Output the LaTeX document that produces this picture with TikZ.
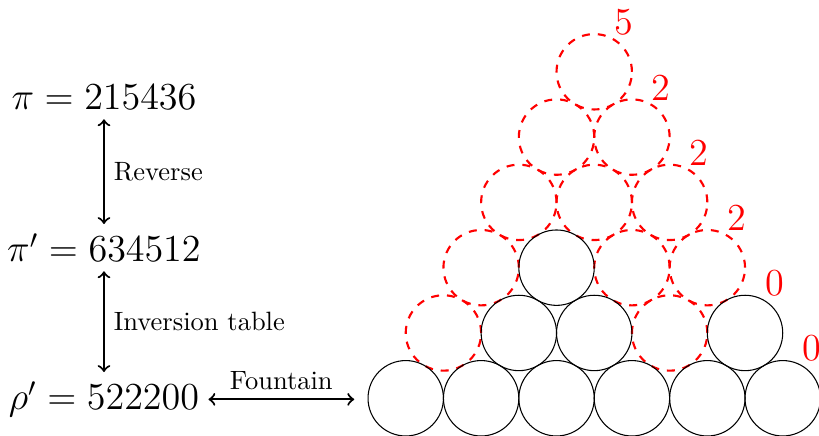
\documentclass[tikz,border=0pt]{standalone}
\usepackage{tikz}
\usetikzlibrary{arrows,shapes,positioning}
\usepackage{amsmath}
\usepackage{amssymb}

\begin{document}
\begin{tikzpicture}
\tikzstyle{every node}=[font=\Large]
\tikzstyle{ball}=[circle, draw, inner sep=0pt, minimum size=1cm]
\tikzstyle{hole}=[ball, draw=red, dashed, thick]
\tikzstyle{num}=[text=red, font=\Large]
\useasboundingbox (0,0) rectangle (10.862,5.782);
\node[anchor=base] (pi) at (1.379,4.324) {$\pi = 215436$};
\node[anchor=base] (pip) at (1.379,2.308) {$\pi' = 634512$};
\node[anchor=base] (rho) at (1.379,0.345) {$\rho' = 522200$};
\begin{scope}[shift={(5.381,0.5)}]
% the dashed ones first
\foreach \i in {0,3} \node[hole] (h1\i) at (\i+0.5,0.866) {};
\foreach \i in {0,2,3} \node[hole] (h2\i) at (\i+1,1.732) {};
\foreach \i in {0,1,2} \node[hole] (h3\i) at (\i+1.5,2.598) {};
\foreach \i in {0,1} \node[hole] (h4\i) at (\i+2,3.464) {};
\node[hole] (h50) at (2.5,4.33) {};
% the solid ones
\foreach \i in {0,...,5} \node[ball] (b0\i) at (\i,0) {};
\foreach \i in {1,2,4} \node[ball] (b1\i) at (\i+0.5,0.866) {};
\node[ball] (b21) at (2,1.732) {};
\foreach \r/\v in {0/0,1/0,2/2,3/2,4/2,5/5}
  \node[num] (n\r) at (5.39-0.5*\r,0.866*\r+0.66) {\v};
\end{scope}
\coordinate (fin) at ([xshift=-5pt]b00.west);
\draw [<->, thick] (pi) -- node[right, font=\normalsize] {Reverse} (pip);
\draw [<->, thick] (pip) -- node[right, font=\normalsize] {Inversion table} (rho);
\draw [<->, thick] (rho) -- node[above, font=\normalsize] {Fountain} (rho -| fin);
\end{tikzpicture}
\end{document}
